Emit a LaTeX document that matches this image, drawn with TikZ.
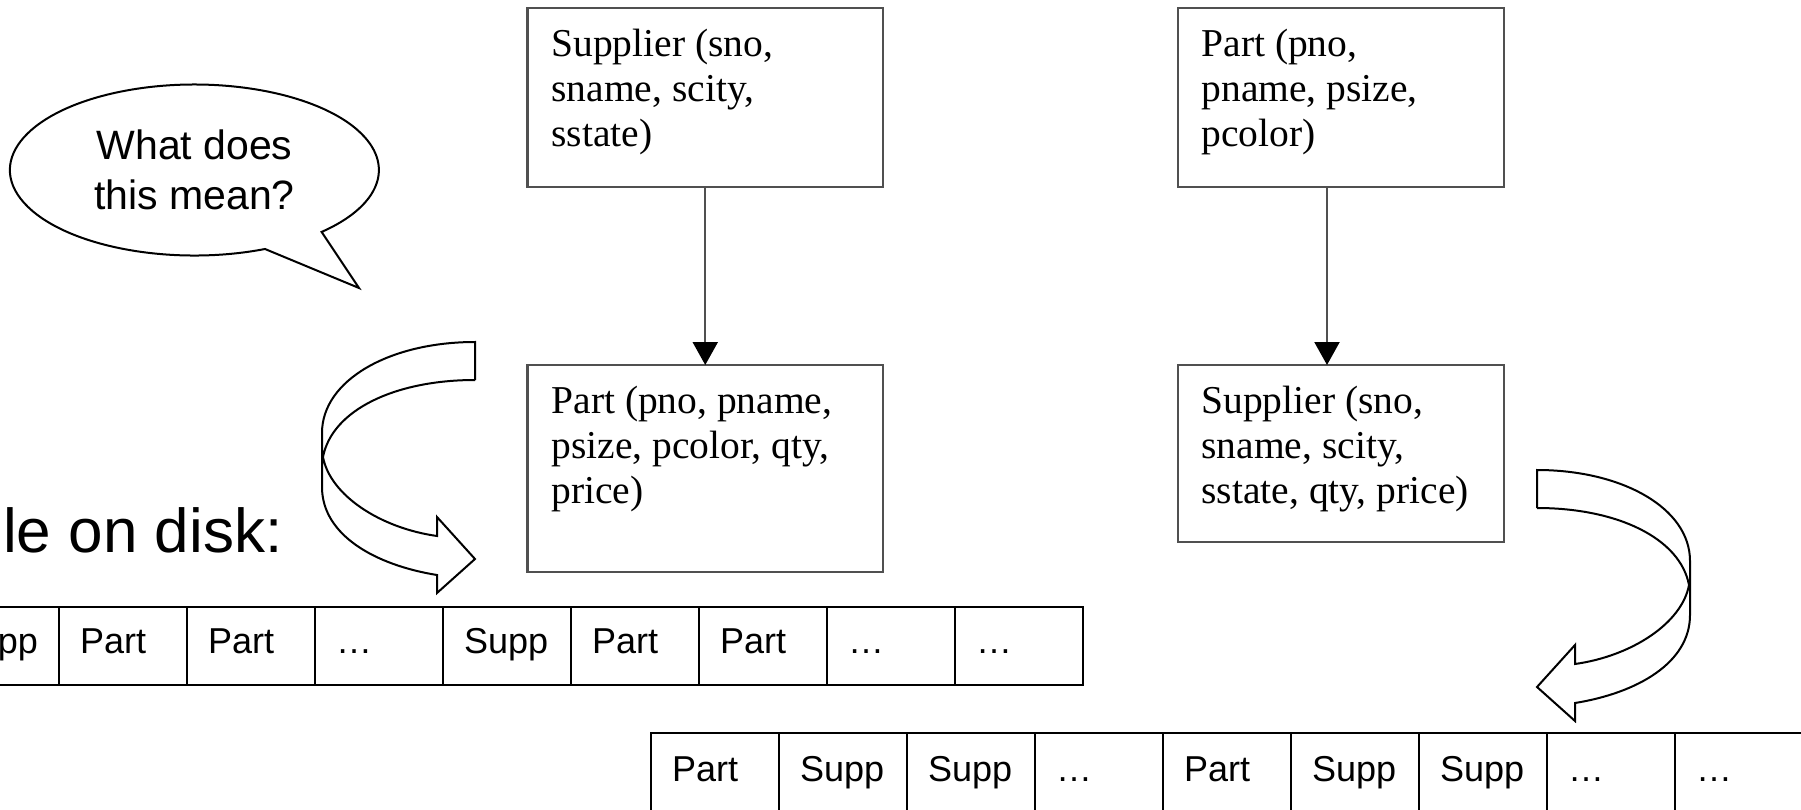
\documentclass[tikz,border=0pt]{standalone}
\usepackage{fontspec}
\setmainfont{Liberation Serif}
\newfontfamily\arialf{Liberation Sans}
\usetikzlibrary{arrows.meta}
\definecolor{boxgray}{RGB}{80,80,80}
\begin{document}
\begin{tikzpicture}[x=1pt,y=-1pt,
  rel/.style={draw=boxgray, line width=2.4pt, rectangle, inner sep=0pt, outer sep=0pt, anchor=north west},
  reltext/.style={anchor=base west, inner sep=0pt, outer sep=0pt},
  conn/.style={draw=boxgray, line width=2.2pt, -{Triangle[width=25pt,length=23pt,color=black]}},
  cell/.style={draw=black, line width=2.3pt, rectangle, anchor=north west, outer sep=0pt,
    minimum width=128pt, text width=86pt, inner xsep=21pt, inner ysep=0pt,
    text height=24pt, text depth=9pt, align=left, font=\arialf\fontsize{36}{36}\selectfont},
  cellr/.style={cell, align=right},
  rowa/.style={minimum height=78pt},
  rowb/.style={minimum height=82pt},
  outline/.style={draw=black, line width=2pt, line join=miter},
  qtext/.style={anchor=base, inner sep=0pt, font=\arialf\fontsize{41}{50}\selectfont}
]
\useasboundingbox (0,0) rectangle (1801,810);
\clip (0,0) rectangle (1801,810);

% speech bubble
\draw[outline] (265,249) arc[start angle=67.5, end angle=406.4, x radius=184.5, y radius=85.5] -- (359,288) -- cycle;
\node[qtext] (q1) at (194.5,160) {What does};
\node[qtext] (q2) at (194.5,210) {this mean?};

% relation boxes
\node[rel, minimum width=355.5pt, minimum height=179pt] (b1) at (527.5,8) {};
\node[rel, minimum width=355.5pt, minimum height=207pt] (b2) at (527.5,365) {};
\node[rel, minimum width=326pt, minimum height=179pt] (b3) at (1178,8) {};
\node[rel, minimum width=326pt, minimum height=177pt] (b4) at (1178,365) {};

\node[reltext] (t1) at (551.5,57) {\parbox[t]{330pt}{\fontsize{39.5}{45}\selectfont Supplier (sno,\\ sname, scity,\\ sstate)}};
\node[reltext] (t2) at (551.5,413) {\parbox[t]{330pt}{\fontsize{39.5}{45}\selectfont Part (pno, pname,\\ psize, pcolor, qty,\\ price)}};
\node[reltext] (t3) at (1201.5,57) {\parbox[t]{300pt}{\fontsize{39.5}{45}\selectfont Part (pno,\\ pname, psize,\\ pcolor)}};
\node[reltext] (t4) at (1201.5,413) {\parbox[t]{300pt}{\fontsize{39.5}{45}\selectfont Supplier (sno,\\ sname, scity,\\ sstate, qty, price)}};

\draw[conn] (b1) -- (b2);
\draw[conn] ([xshift=-14pt]b3.south) -- ([xshift=-14pt]b4.north);

% left curved arrow
\draw[outline] (475,380) -- (475,342) .. controls (390,342) and (322,380) .. (322,433)
  -- (322,487) .. controls (322,535) and (375,565) .. (437,575)
  -- (437,593) -- (475,559) -- (437,517) -- (437,536)
  .. controls (380,528) and (330,495) .. (323,457)
  .. controls (332,410) and (395,380) .. (475,380);

% right curved arrow (mirror)
\begin{scope}[shift={(2012,128)}, xscale=-1]
\draw[outline] (475,380) -- (475,342) .. controls (390,342) and (322,380) .. (322,433)
  -- (322,487) .. controls (322,535) and (375,565) .. (437,575)
  -- (437,593) -- (475,559) -- (437,517) -- (437,536)
  .. controls (380,528) and (330,495) .. (323,457)
  .. controls (332,410) and (395,380) .. (475,380);
\end{scope}

% label
\node[anchor=base west, inner sep=0pt, font=\arialf\fontsize{62}{62}\selectfont] (disk) at (3,552) {le on disk:};

% top row
\node[cellr, rowa] (r1) at (-69,607) {pp};
\node[cell, rowa] (r2) at (59,607) {Part};
\node[cell, rowa] (r3) at (187,607) {Part};
\node[cell, rowa] (r4) at (315,607) {…};
\node[cell, rowa] (r5) at (443,607) {Supp};
\node[cell, rowa] (r6) at (571,607) {Part};
\node[cell, rowa] (r7) at (699,607) {Part};
\node[cell, rowa] (r8) at (827,607) {…};
\node[cell, rowa] (r9) at (955,607) {…};

% bottom row
\node[cell, rowb] (s1) at (651,733) {Part};
\node[cell, rowb] (s2) at (779,733) {Supp};
\node[cell, rowb] (s3) at (907,733) {Supp};
\node[cell, rowb] (s4) at (1035,733) {…};
\node[cell, rowb] (s5) at (1163,733) {Part};
\node[cell, rowb] (s6) at (1291,733) {Supp};
\node[cell, rowb] (s7) at (1419,733) {Supp};
\node[cell, rowb] (s8) at (1547,733) {…};
\node[cell, rowb] (s9) at (1675,733) {…};
\end{tikzpicture}
\end{document}
